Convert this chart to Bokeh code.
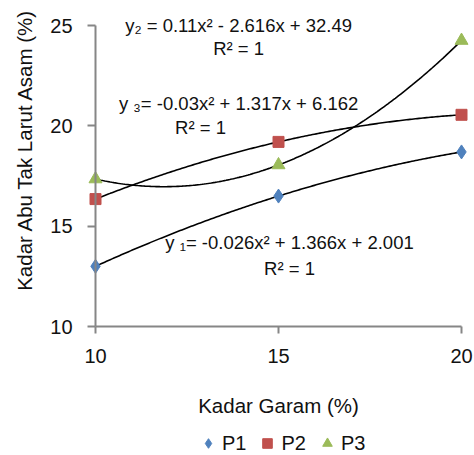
import numpy as np
from bokeh.plotting import figure
from bokeh.models import Range1d, Label, Legend, LegendItem, FixedTicker
from bokeh.embed import file_html
from bokeh.resources import INLINE

# ---- data ----
kadar_garam = [10, 15, 20]
p1 = [13.0, 16.5, 18.7]
p2 = [16.35, 19.2, 20.55]
p3 = [17.35, 18.05, 24.25]
series_names = ["P1", "P2", "P3"]
x_ticks = [10, 15, 20]
y_ticks = [10, 15, 20, 25]
eq1 = ["y \u2081= -0.026x\u00b2 + 1.366x + 2.001", "R\u00b2 = 1"]
eq2 = ["y\u2082 = 0.11x\u00b2 - 2.616x + 32.49", "R\u00b2 = 1"]
eq3 = ["y \u2083= -0.03x\u00b2 + 1.317x + 6.162", "R\u00b2 = 1"]
x_title = "Kadar Garam (%)"
y_title = "Kadar Abu Tak Larut Asam (%)"

FONT = "Liberation Sans"
FS = "20px"
FS_EQ = "18.5px"
AX = "#868686"
TXT = "#111111"
colors = ["#4F81BD", "#C0504D", "#9BBB59"]
markers = ["diamond", "square", "triangle"]
sizes = [14, 11, 13]

# frame covers the whole canvas; axes are placed at fixed data locations
p = figure(width=474, height=455, output_backend="svg", toolbar_location=None,
           x_range=Range1d(7.404, 20.355), y_range=Range1d(3.572, 26.246),
           min_border=0)
p.outline_line_color = None
p.xgrid.visible = False
p.ygrid.visible = False
p.background_fill_color = "white"

for ax in (p.xaxis[0], p.yaxis[0]):
    ax.fixed_location = 10
    ax.axis_line_color = AX
    ax.axis_line_width = 2
    ax.major_tick_line_color = AX
    ax.major_tick_line_width = 2
    ax.minor_tick_line_color = None
    ax.major_tick_in = 0
    ax.major_label_text_font = FONT
    ax.major_label_text_font_size = FS
    ax.major_label_text_color = TXT
    ax.major_label_standoff = 15
p.xaxis[0].ticker = FixedTicker(ticks=x_ticks)
p.yaxis[0].ticker = FixedTicker(ticks=y_ticks)
p.xaxis[0].bounds = (x_ticks[0], x_ticks[-1])
p.yaxis[0].bounds = (y_ticks[0], y_ticks[-1])
p.xaxis[0].major_tick_out = 7
p.yaxis[0].major_tick_out = 8

# trendlines (quadratic fits through the data)
xs = np.linspace(kadar_garam[0], kadar_garam[-1], 200)
for ys in (p1, p2, p3):
    c = np.polyfit(kadar_garam, ys, 2)
    p.line(xs, np.polyval(c, xs), line_color="black", line_width=1.6)

items = []
for name, ys, col, mk, sz in zip(series_names, (p1, p2, p3), colors, markers, sizes):
    r = p.scatter(kadar_garam, ys, marker=mk, size=sz, fill_color=col, line_color=col)
    items.append(LegendItem(label=name, renderers=[r]))

legend = Legend(items=items, orientation="horizontal", location=(196, 0),
                label_text_font=FONT, label_text_font_size=FS, label_text_color=TXT,
                border_line_color=None, background_fill_alpha=0, padding=0, margin=0,
                spacing=9, glyph_width=24, glyph_height=24, label_standoff=2)
p.add_layout(legend, "center")

def add_text(txt, x, y, size=FS_EQ, angle=0.0):
    p.add_layout(Label(x=x, y=y, text=txt, text_font=FONT, text_font_size=size,
                       text_color=TXT, text_align="center", text_baseline="middle",
                       angle=angle))

add_text(eq2[0], 13.91, 25.0)
add_text(eq2[1], 13.91, 23.85)
add_text(eq3[0], 13.91, 21.11)
add_text(eq3[1], 12.87, 19.92)
add_text(eq1[0], 15.30, 14.19)
add_text(eq1[1], 15.30, 12.89)

add_text(x_title, 15.0, 6.06, size="20.5px")
add_text(y_title, 8.06, 18.82, size="20.5px", angle=np.pi / 2)

open("out.html", "w").write(file_html(p, INLINE))
